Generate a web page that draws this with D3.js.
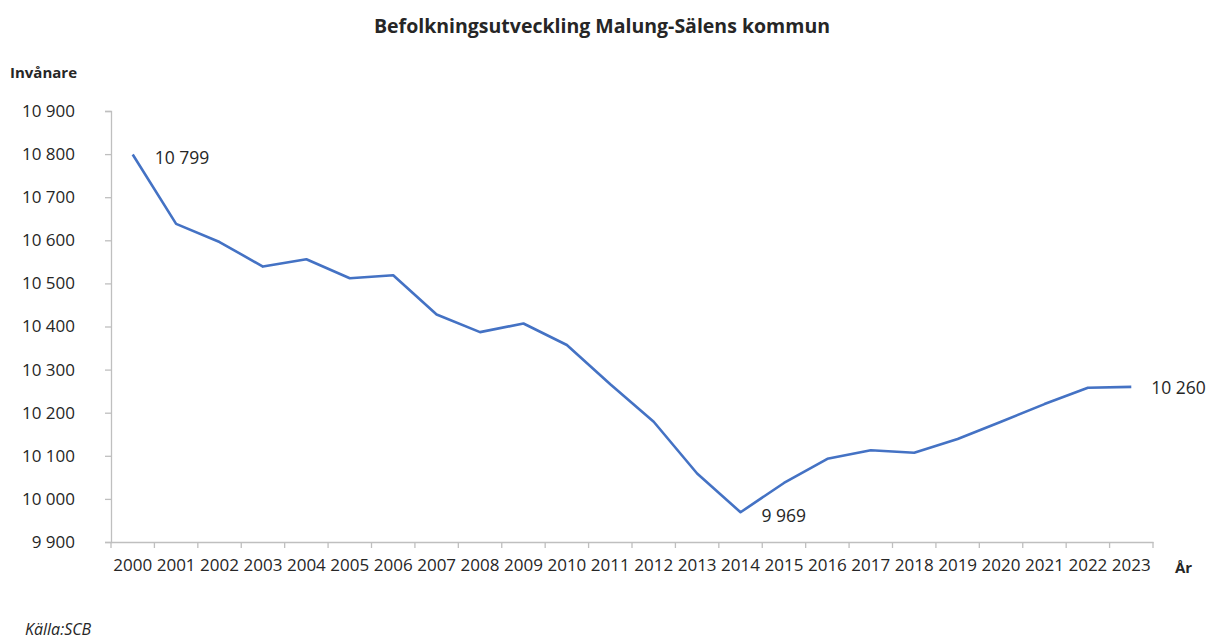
<!DOCTYPE html>
<html>
<head>
<meta charset="utf-8">
<script src="https://cdn.jsdelivr.net/npm/d3@7"></script>
<style>
	body { margin: 0; background: #fff; }
	text { font-family: "Open Sans", sans-serif; fill: #262626; }
</style>
</head>
<body>
<svg id="chart" width="1211" height="639"></svg>
<script>

// Data (SCB)
const years = ["2000", "2001", "2002", "2003", "2004", "2005", "2006", "2007", "2008", "2009", "2010", "2011",
	"2012", "2013", "2014", "2015", "2016", "2017", "2018", "2019", "2020", "2021", "2022", "2023"];
const population = [10799, 10638, 10596, 10539, 10556, 10512, 10519, 10428, 10387, 10407, 10357, 10266,
	10179, 10059, 9969, 10037, 10093, 10113, 10107, 10139, 10179, 10220, 10258, 10260];
const y_ticks = [9900, 10000, 10100, 10200, 10300, 10400, 10500, 10600, 10700, 10800, 10900];
const labelled = [
	{ year: "2000", value: 10799, text: "10 799" },
	{ year: "2014", value: 9969, text: "9 969" },
	{ year: "2023", value: 10260, text: "10 260" }
];

const svg = d3.select("#chart");
const plot_left = 111, plot_right = 1153, plot_top = 111, plot_bottom = 542;

const x = d3.scaleBand().domain(years).range([plot_left, plot_right]);
const y = d3.scaleLinear().domain([9900, 10900]).range([plot_bottom, plot_top]);

const fmt = v => d3.format(",")(v).replace(",", " ");

// title
svg.append("text")
	.attr("x", 602).attr("y", 33)
	.attr("text-anchor", "middle")
	.style("font-size", "19.5px").style("font-weight", "bold")
	.text("Befolkningsutveckling Malung-Sälens kommun");

svg.append("text")
	.attr("x", 10).attr("y", 78)
	.style("font-size", "15px").style("font-weight", "bold")
	.text("Invånare");

// y axis
const y_axis = svg.append("g")
	.attr("transform", "translate(" + plot_left + ",0)")
	.call(d3.axisLeft(y).tickValues(y_ticks).tickFormat(fmt).tickSize(6).tickPadding(30));
y_axis.selectAll("text").style("font-size", "17px").attr("fill", "#262626");

// x axis, ticks between categories
const x_axis = svg.append("g")
	.attr("transform", "translate(0," + plot_bottom + ")")
	.call(d3.axisBottom(x).tickSize(0).tickPadding(17));
x_axis.selectAll("text").style("font-size", "17px").attr("fill", "#262626");
x_axis.selectAll(".between")
	.data(years.concat(["end"]))
	.enter().append("line")
	.attr("x1", (d, i) => plot_left + i * x.bandwidth())
	.attr("x2", (d, i) => plot_left + i * x.bandwidth())
	.attr("y1", 0).attr("y2", 6);

svg.selectAll(".domain, .tick line, line").attr("stroke", "#bfbfbf").attr("stroke-width", 1.3);

svg.append("text")
	.attr("x", 1175).attr("y", 573)
	.style("font-size", "15px").style("font-weight", "bold")
	.text("År");

// line
const line = d3.line()
	.x((d, i) => x(years[i]) + x.bandwidth() / 2)
	.y(d => y(d));

svg.append("path")
	.datum(population)
	.attr("d", line)
	.attr("fill", "none")
	.attr("stroke", "#4472c4")
	.attr("stroke-width", 2.6)
	.attr("stroke-linejoin", "round");

// data labels
const offsets = { "2000": [22, 9], "2014": [21, 10], "2023": [20, 7] };
svg.selectAll(".data-label")
	.data(labelled)
	.enter().append("text")
	.attr("class", "data-label")
	.attr("x", d => x(d.year) + x.bandwidth() / 2 + offsets[d.year][0])
	.attr("y", d => y(d.value) + offsets[d.year][1])
	.style("font-size", "17.5px")
	.text(d => d.text);

svg.append("text")
	.attr("x", 25).attr("y", 635)
	.style("font-size", "16px").style("font-style", "italic")
	.text("Källa:SCB");

</script>
</body>
</html>
